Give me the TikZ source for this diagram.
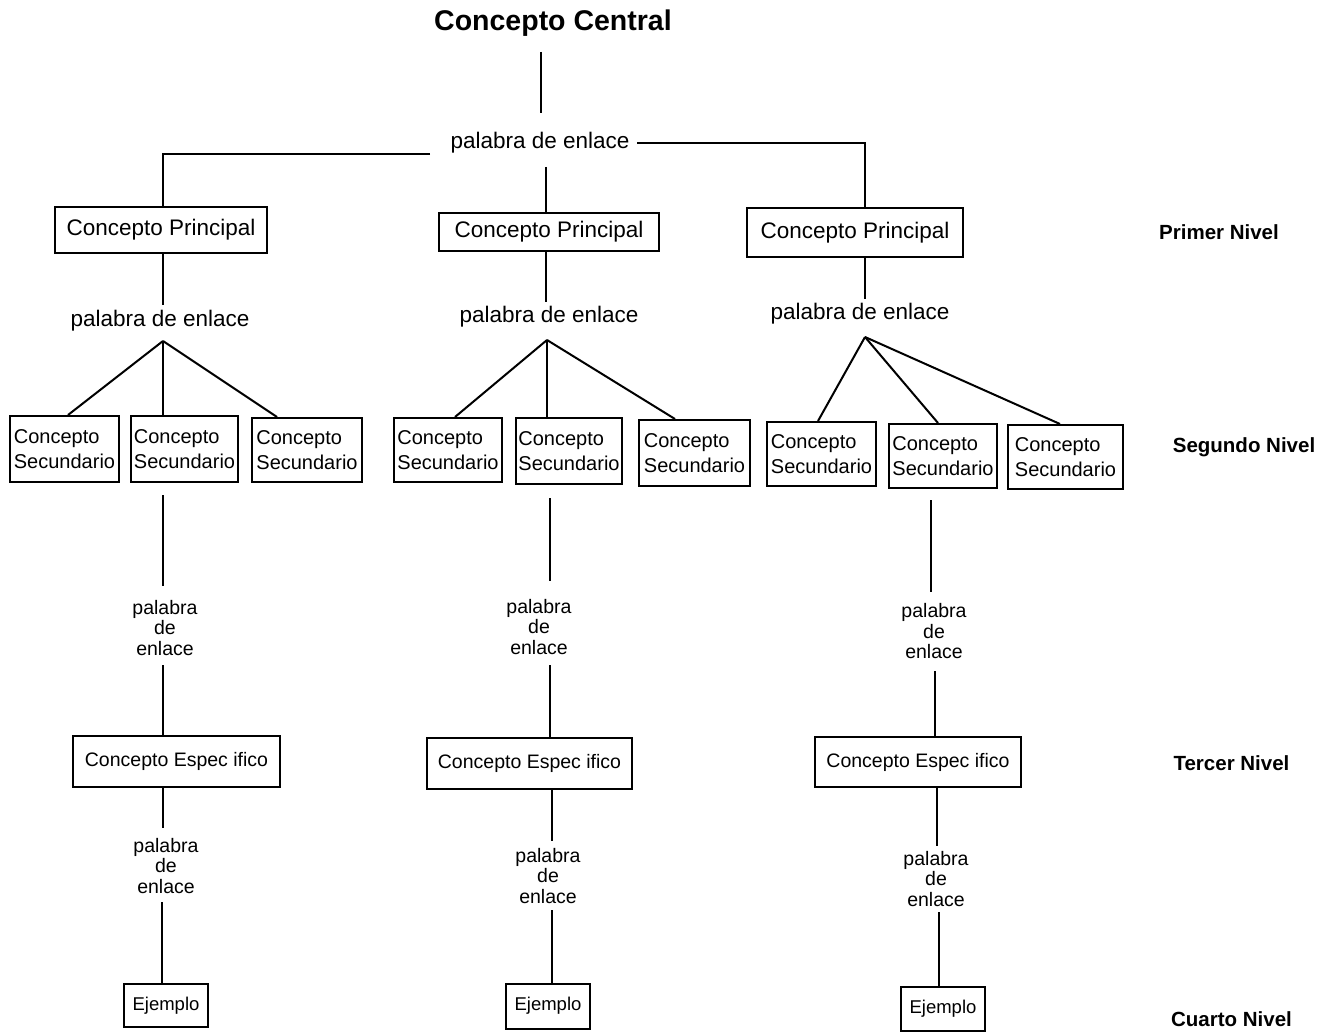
\documentclass[tikz,border=0pt]{standalone}
\usepackage{fontspec}
\setmainfont{Liberation Sans}
\begin{document}
\begin{tikzpicture}[x=1pt,y=-1pt,line width=2pt,
  ttl/.style={font=\fontsize{28.5}{34}\selectfont\bfseries, inner sep=0pt},
  lnk/.style={font=\fontsize{22.5}{27}\selectfont, inner sep=0pt},
  vlnk/.style={font=\fontsize{19.5}{20.5}\selectfont, align=center, inner sep=0pt},
  prin/.style={draw, line width=2pt, font=\fontsize{22.5}{27}\selectfont, inner sep=0pt},
  sec/.style={draw, line width=2pt, font=\fontsize{20}{25}\selectfont, align=left, inner sep=0pt},
  esp/.style={draw, line width=2pt, font=\fontsize{19.5}{24}\selectfont, inner sep=0pt},
  ejm/.style={draw, line width=2pt, font=\fontsize{18.5}{22}\selectfont, inner sep=0pt},
  nivel/.style={font=\fontsize{20.5}{24}\selectfont\bfseries, inner sep=0pt},
  conn/.style={line width=2pt}]
\fill[white] (0,0) rectangle (1329,1032);
\useasboundingbox (0,0) rectangle (1329,1032);

% title and top link
\node[ttl] (title) at (553,23) {Concepto Central};
\node[lnk] (pl0) at (540,143) {palabra de enlace};

% principal concepts
\node[prin, minimum width=212pt, minimum height=46pt] (cp1) at (161,230) {Concepto Principal};
\node[prin, minimum width=220pt, minimum height=38pt] (cp2) at (549,232) {Concepto Principal};
\node[prin, minimum width=216pt, minimum height=49pt] (cp3) at (855,232.5) {Concepto Principal};

% link words
\node[lnk] (pl1) at (160,321) {palabra de enlace};
\node[lnk] (pl2) at (549,317) {palabra de enlace};
\node[lnk] (pl3) at (860,314) {palabra de enlace};

% secondary concepts
\node[sec, minimum width=109pt, minimum height=66pt] (s1) at (64.5,449) {Concepto\\Secundario};
\node[sec, minimum width=107pt, minimum height=66pt] (s2) at (184.5,449) {Concepto\\Secundario};
\node[sec, minimum width=110pt, minimum height=64pt] (s3) at (307,450) {Concepto\\Secundario};
\node[sec, minimum width=108pt, minimum height=64pt] (s4) at (448,450) {Concepto\\Secundario};
\node[sec, minimum width=106pt, minimum height=66pt] (s5) at (569,451) {Concepto\\Secundario};
\node[sec, minimum width=111pt, minimum height=66pt] (s6) at (694.5,453) {Concepto\\Secundario};
\node[sec, minimum width=109pt, minimum height=64pt] (s7) at (821.5,454) {Concepto\\Secundario};
\node[sec, minimum width=108pt, minimum height=64pt] (s8) at (943,456) {Concepto\\Secundario};
\node[sec, minimum width=115pt, minimum height=64pt] (s9) at (1065.5,457) {Concepto\\Secundario};

% vertical link words
\node[vlnk] (v1) at (165,628) {palabra\\de\\enlace};
\node[vlnk] (v2) at (539,627) {palabra\\de\\enlace};
\node[vlnk] (v3) at (934,631.5) {palabra\\de\\enlace};

% specific concepts
\node[esp, minimum width=207pt, minimum height=51pt] (e1) at (176.5,761.5) {Concepto Espec ifico};
\node[esp, minimum width=205pt, minimum height=51pt] (e2) at (529.5,763.5) {Concepto Espec ifico};
\node[esp, minimum width=206pt, minimum height=50pt] (e3) at (918,762) {Concepto Espec ifico};

\node[vlnk] (w1) at (166,866) {palabra\\de\\enlace};
\node[vlnk] (w2) at (548,876) {palabra\\de\\enlace};
\node[vlnk] (w3) at (936,879) {palabra\\de\\enlace};

% examples
\node[ejm, minimum width=84pt, minimum height=43pt] (ej1) at (166,1005.5) {Ejemplo};
\node[ejm, minimum width=84pt, minimum height=45pt] (ej2) at (548,1006) {Ejemplo};
\node[ejm, minimum width=84pt, minimum height=44pt] (ej3) at (943,1009) {Ejemplo};

% level labels
\node[nivel] (n1) at (1219,232) {Primer Nivel};
\node[nivel] (n2) at (1244,447.5) {Segundo Nivel};
\node[nivel] (n3) at (1231.5,763.5) {Tercer Nivel};
\node[nivel] (n4) at (1231.5,1019) {Cuarto Nivel};

% connectors: top
\draw[conn] ([xshift=-12pt,yshift=-29pt]title.center) -- ([xshift=1pt,yshift=30pt]pl0.center);
\draw[conn] ([xshift=-110pt,yshift=-11pt]pl0.center) -| ([xshift=2pt]cp1.north);
\draw[conn] ([xshift=97pt]pl0.center) -| ([xshift=10pt]cp3.north);
\draw[conn] ([xshift=6pt,yshift=-24pt]pl0.center) -- ([xshift=-3pt]cp2.north);

% principal to link words
\draw[conn] ([xshift=2pt]cp1.south) -- ([xshift=3pt,yshift=16pt]pl1.center);
\draw[conn] ([xshift=-3pt]cp2.south) -- ([xshift=-3pt,yshift=15pt]pl2.center);
\draw[conn] ([xshift=10pt]cp3.south) -- ([xshift=5pt,yshift=15pt]pl3.center);

% fans
\draw[conn] ([xshift=3pt,yshift=-20pt]pl1.center) -- ([xshift=3.5pt]s1.north);
\draw[conn] ([xshift=3pt,yshift=-20pt]pl1.center) -- ([xshift=-21.5pt]s2.north);
\draw[conn] ([xshift=3pt,yshift=-20pt]pl1.center) -- ([xshift=-30pt]s3.north);
\draw[conn] ([xshift=-2pt,yshift=-23pt]pl2.center) -- ([xshift=7pt]s4.north);
\draw[conn] ([xshift=-2pt,yshift=-23pt]pl2.center) -- ([xshift=-22pt]s5.north);
\draw[conn] ([xshift=-2pt,yshift=-23pt]pl2.center) -- ([xshift=-19.5pt]s6.north);
\draw[conn] ([xshift=5pt,yshift=-23pt]pl3.center) -- ([xshift=-3.5pt]s7.north);
\draw[conn] ([xshift=5pt,yshift=-23pt]pl3.center) -- ([xshift=-5pt]s8.north);
\draw[conn] ([xshift=5pt,yshift=-23pt]pl3.center) -- ([xshift=-5.5pt]s9.north);

% column 1
\draw[conn] ([xshift=-21.5pt,yshift=-12pt]s2.south) -- ([xshift=-2pt,yshift=42pt]v1.center);
\draw[conn] ([xshift=-2pt,yshift=-37pt]v1.center) -- ([xshift=-13.5pt]e1.north);
\draw[conn] ([xshift=-13.5pt]e1.south) -- ([xshift=-3pt,yshift=38pt]w1.center);
\draw[conn] ([xshift=-4pt,yshift=-36pt]w1.center) -- ([xshift=-4pt]ej1.north);

% column 2
\draw[conn] ([xshift=-19pt,yshift=-13pt]s5.south) -- ([xshift=11pt,yshift=46pt]v2.center);
\draw[conn] ([xshift=11pt,yshift=-38pt]v2.center) -- ([xshift=20.5pt]e2.north);
\draw[conn] ([xshift=22.5pt]e2.south) -- ([xshift=4pt,yshift=35pt]w2.center);
\draw[conn] ([xshift=4pt,yshift=-34pt]w2.center) -- ([xshift=4pt]ej2.north);

% column 3
\draw[conn] ([xshift=-12pt,yshift=-11pt]s8.south) -- ([xshift=-3pt,yshift=39.5pt]v3.center);
\draw[conn] ([xshift=1pt,yshift=-39.5pt]v3.center) -- ([xshift=17pt]e3.north);
\draw[conn] ([xshift=19pt]e3.south) -- ([xshift=1pt,yshift=33pt]w3.center);
\draw[conn] ([xshift=3pt,yshift=-33pt]w3.center) -- ([xshift=-4pt]ej3.north);
\end{tikzpicture}
\end{document}
